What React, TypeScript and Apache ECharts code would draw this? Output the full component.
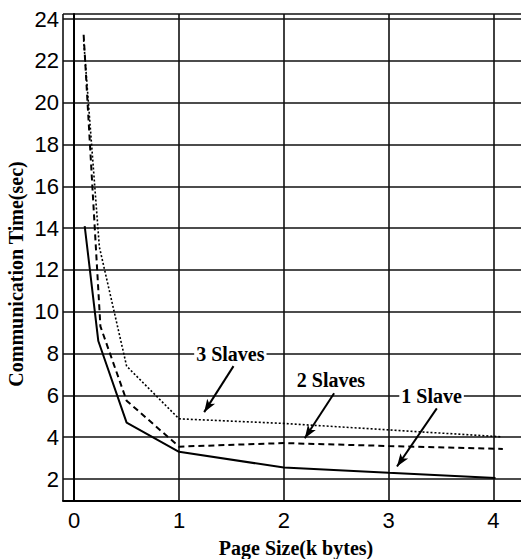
import React, { useEffect, useRef } from 'react';
import * as echarts from 'echarts';

// Tick values shown on the axes
const xTickValues = [0, 1, 2, 3, 4];
const yTickValues = [2, 4, 6, 8, 10, 12, 14, 16, 18, 20, 22, 24];

// Series data (Page Size in k bytes -> Communication Time in sec)
const oneSlaveX = [0.1, 0.23, 0.5, 1, 2, 3, 4.02];
const oneSlaveY = [14.1, 8.6, 4.7, 3.3, 2.55, 2.3, 2.05];

const twoSlavesX = [0.09, 0.25, 0.5, 1, 2, 3, 4.09];
const twoSlavesY = [23.25, 9.3, 5.75, 3.55, 3.72, 3.58, 3.44];

const threeSlavesX = [0.09, 0.24, 0.5, 1, 2, 3, 4.08];
const threeSlavesY = [23.0, 13.1, 7.4, 4.88, 4.66, 4.35, 4.02];

const seriesNames = ['1 Slave', '2 Slaves', '3 Slaves'];

// Annotation anchors in data coordinates
const labelAt = [[3.41, 5.97], [2.45, 6.73], [1.49, 7.98]];
const arrowFrom = [[3.46, 5.38], [2.48, 6.1], [1.52, 7.4]];
const arrowTo = [[3.08, 2.6], [2.2, 3.95], [1.24, 5.2]];

const zip = (xs: number[], ys: number[]) => xs.map((x, i) => [x, ys[i]]);

export default function App() {
  const ref = useRef<HTMLDivElement>(null);

  useEffect(() => {
    if (!ref.current) return;
    const chart = echarts.init(ref.current, null, { renderer: 'svg' });

    const isTick = (v: number, list: number[]) =>
      list.some((t) => Math.abs(t - v) < 1e-6);

    const lineTypes: any[] = ['solid', [6, 4], [2, 2]];
    const lineWidths = [2, 2, 1.6];
    const datas = [
      zip(oneSlaveX, oneSlaveY),
      zip(twoSlavesX, twoSlavesY),
      zip(threeSlavesX, threeSlavesY),
    ];

    const series: any[] = datas.map((d, i) => ({
      type: 'line',
      name: seriesNames[i],
      data: d,
      symbol: 'none',
      silent: true,
      lineStyle: { color: '#000', width: lineWidths[i], type: lineTypes[i] },
      markLine: {
        silent: true,
        symbol: ['none', 'arrow'],
        symbolSize: [7, 13],
        label: { show: false },
        lineStyle: { color: '#000', width: 2, type: 'solid' },
        data: [[{ coord: arrowFrom[i] }, { coord: arrowTo[i] }]],
      },
      markPoint: {
        silent: true,
        symbol: 'rect',
        symbolSize: 1,
        itemStyle: { color: 'rgba(0,0,0,0)' },
        label: {
          show: true,
          position: 'inside',
          formatter: '{b}',
          color: '#000',
          fontFamily: 'Liberation Serif',
          fontWeight: 'bold',
          fontSize: 20,
          backgroundColor: '#fff',
          padding: [0, 2],
        },
        data: [{ name: seriesNames[i], coord: labelAt[i] }],
      },
    }));

    chart.setOption({
      animation: false,
      backgroundColor: '#fff',
      grid: {
        left: 63,
        top: 14,
        right: -3,
        bottom: 58,
        containLabel: false,
        outerBoundsMode: 'none',
      } as any,
      xAxis: {
        type: 'value',
        min: -0.107,
        max: 4.292,
        minInterval: 1,
        maxInterval: 1,
        axisLine: { show: true, lineStyle: { color: '#000', width: 2 } },
        axisTick: { show: false },
        axisLabel: {
          margin: 8,
          color: '#000',
          fontFamily: 'Liberation Sans',
          fontSize: 22,
          formatter: (v: number) => (isTick(v, xTickValues) ? String(Math.round(v)) : ''),
        },
        splitLine: { show: true, lineStyle: { color: '#111', width: 1.6 } },
      },
      yAxis: {
        type: 'value',
        min: 0.95,
        max: 24.24,
        minInterval: 2,
        maxInterval: 2,
        axisLine: { show: true, lineStyle: { color: '#000', width: 2 } },
        axisTick: { show: false },
        axisLabel: {
          margin: 4,
          color: '#000',
          fontFamily: 'Liberation Sans',
          fontSize: 22,
          formatter: (v: number) => (isTick(v, yTickValues) ? String(Math.round(v)) : ''),
        },
        splitLine: { show: true, lineStyle: { color: '#111', width: 1.6 } },
      },
      graphic: [
        {
          type: 'text',
          x: 16,
          y: 274,
          rotation: Math.PI / 2,
          style: {
            text: 'Communication Time(sec)',
            fill: '#000',
            fontFamily: 'Liberation Serif',
            fontWeight: 'bold',
            fontSize: 20,
            align: 'center',
            verticalAlign: 'middle',
          },
        },
        {
          type: 'text',
          x: 296,
          y: 548,
          style: {
            text: 'Page Size(k bytes)',
            fill: '#000',
            fontFamily: 'Liberation Serif',
            fontWeight: 'bold',
            fontSize: 20,
            align: 'center',
            verticalAlign: 'middle',
          },
        },
      ],
      series,
    });

    return () => chart.dispose();
  }, []);

  return (
    <div
      ref={ref}
      style={{ position: 'fixed', left: 0, top: 0, width: 521, height: 559, background: '#fff' }}
    />
  );
}
